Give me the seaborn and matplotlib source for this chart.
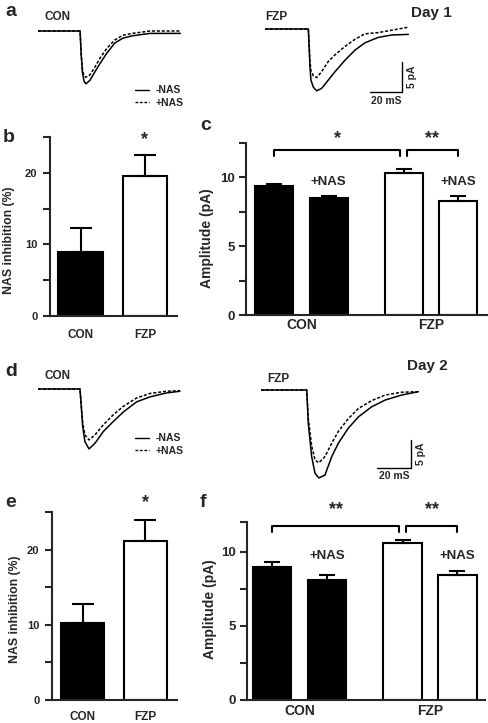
import seaborn as sns
import numpy as np
import matplotlib.pyplot as plt
import pandas as pd
from matplotlib.lines import Line2D

# --- data ---

# Day 1 traces (time in ms, current in pA)
d1_con_t_off = [0, 26.3, 27.0, 27.8, 28.8, 30.0, 32.5, 35.6, 38.8, 43.0, 48.0, 53.0, 59.0, 70.0, 89.0]
d1_con_i_off = [0, 0, -4.0, -7.0, -8.4, -8.8, -8.2, -6.8, -5.4, -3.7, -2.0, -1.2, -0.8, -0.4, -0.4]
d1_con_i_on = [0, 0, -3.8, -6.5, -7.5, -7.7, -7.3, -6.0, -4.5, -2.9, -1.5, -0.7, -0.4, 0.0, 0.0]

d1_fzp_t = [0, 27.1, 28.1, 28.7, 30.2, 32.3, 35.4, 39.6, 43.8, 50.0, 56.3, 62.5, 70.8, 79.2, 89.6]
d1_fzp_i_off = [0, 0, -6.3, -8.5, -9.7, -10.3, -9.9, -8.5, -7.1, -5.2, -3.5, -2.3, -1.4, -1.0, -0.9]
d1_fzp_i_on = [0, 0, -5.3, -6.9, -7.8, -8.1, -7.1, -5.4, -4.3, -2.9, -1.7, -0.8, -0.6, -0.2, 0.3]

# Day 2 traces
d2_con_t = [0, 24.7, 26.3, 27.6, 30.0, 33.5, 38.4, 44.3, 50.2, 58.0, 65.9, 75.7, 83.5]
d2_con_i_off = [0, 0, -6.7, -9.4, -10.7, -9.7, -7.6, -5.8, -4.1, -2.3, -1.4, -0.7, -0.4]
d2_con_i_on = [0, 0, -6.0, -8.2, -9.1, -8.2, -6.4, -4.6, -3.1, -1.6, -0.8, -0.4, -0.3]

d2_fzp_t = [0, 26.9, 27.8, 29.8, 31.8, 34.0, 37.6, 41.6, 45.5, 51.4, 57.3, 65.1, 73.0, 82.7, 92.5]
d2_fzp_i_off = [0, 0, -5.9, -11.9, -14.9, -15.7, -15.2, -11.9, -9.5, -6.8, -4.8, -3.0, -1.8, -0.9, -0.3]
d2_fzp_i_on = [0, 0, -5.0, -10.0, -12.5, -13.0, -11.9, -9.5, -7.4, -5.1, -3.3, -1.9, -0.9, -0.4, -0.3]

# NAS inhibition (%) bars
groups = ["CON", "FZP"]
inhib_d1 = [8.9, 19.6]
inhib_d1_err = [3.4, 2.9]
inhib_d2 = [10.2, 21.1]
inhib_d2_err = [2.6, 2.8]

# amplitude bars (pA): CON -NAS, CON +NAS, FZP -NAS, FZP +NAS
amp_group = ["CON", "CON", "FZP", "FZP"]
amp_treat = ["-NAS", "+NAS", "-NAS", "+NAS"]
amp_d1 = [9.4, 8.5, 10.3, 8.3]
amp_d1_err = [0.15, 0.15, 0.3, 0.35]
amp_d2 = [9.0, 8.1, 10.6, 8.4]
amp_d2_err = [0.3, 0.35, 0.2, 0.3]

# --- figure ---
sns.set_style("ticks")
plt.rcParams["font.family"] = ["Liberation Sans", "DejaVu Sans"]
plt.rcParams["font.weight"] = "bold"
plt.rcParams["axes.labelweight"] = "bold"
plt.rcParams["axes.linewidth"] = 1.5

W, H = 489, 723
fig = plt.figure(figsize=(W / 100, H / 100), dpi=100)


def px_axes(left, top, right, bottom):
    return fig.add_axes([left / W, 1 - bottom / H, (right - left) / W, (bottom - top) / H])


def ftext(x, y, s, **kw):
    fig.text(x / W, 1 - y / H, s, **kw)


def trace_axes(x0, base, pxms, pxpa, tmax=100, ymin=-17, ymax=1):
    ax = px_axes(x0, base - ymax * pxpa, x0 + tmax * pxms, base - ymin * pxpa)
    ax.set_xlim(0, tmax)
    ax.set_ylim(ymin, ymax)
    ax.axis("off")
    return ax


def draw_trace(ax, t, off, on):
    df = pd.DataFrame({
        "time": list(t) + list(t),
        "current": list(off) + list(on),
        "cond": ["-NAS"] * len(t) + ["+NAS"] * len(t),
    })
    sns.lineplot(data=df, x="time", y="current", style="cond", color="black",
                 dashes={"-NAS": "", "+NAS": (2, 1.2)}, linewidth=1.1,
                 legend=False, ax=ax)
    ax.axis("off")


def scale_bar(ax, t0, y0):
    ax.plot([t0, t0 + 20, t0 + 20], [y0, y0, y0 + 5], color="black", lw=1.0)
    ax.text(t0 + 10, y0 - 0.6, "20 mS", ha="center", va="top", fontsize=7.5)
    ax.text(t0 + 23, y0 + 2.5, "5 pA", ha="left", va="center", rotation=90, fontsize=7.5)


def nas_legend(ax, x, y):
    handles = [Line2D([], [], color="black", lw=1.0),
               Line2D([], [], color="black", lw=1.0, dashes=(2, 1.2))]
    ax.legend(handles, ["-NAS", "+NAS"], loc="upper left",
              bbox_to_anchor=(x / W, 1 - y / H), bbox_transform=fig.transFigure,
              frameon=False, handlelength=1.3, handletextpad=0.7,
              labelspacing=0.25, borderpad=0, prop={"size": 7.5, "weight": "bold"})


def inhib_panel(ax, vals, errs, xlim, label_x, label_y, pad, star_y):
    sns.barplot(x=groups, y=vals, hue=groups, palette={"CON": "black", "FZP": "white"},
                edgecolor="black", linewidth=1.5, width=0.69, legend=False, ax=ax)
    ax.errorbar([0, 1], vals, yerr=[[0, 0], errs], fmt="none", ecolor="black",
                elinewidth=1.5, capsize=8, capthick=1.5)
    ax.set_xlim(*xlim)
    ax.set_ylim(0, 25)
    ax.set_yticks([0, 5, 10, 15, 20, 25])
    ax.set_yticklabels(["0", "", "10", "", "20", ""])
    ax.tick_params(axis="y", length=5, width=1.5, labelsize=8, pad=4)
    ax.tick_params(axis="x", length=0, labelsize=8.5, pad=pad)
    ax.set_ylabel("NAS inhibition (%)", fontsize=8.8)
    ax.yaxis.set_label_coords(label_x, label_y, transform=fig.transFigure)
    ax.set_xlabel("")
    ax.text(1, star_y, "*", ha="center", va="center", fontsize=13, clip_on=False)
    sns.despine(ax=ax)


def amp_panel(ax, vals, errs, xlim, ytop, yticks, star_texts, bracket_y, star_y, nas_y,
              label_x, label_y, pad):
    df = pd.DataFrame({"group": amp_group, "treat": amp_treat, "amp": vals})
    sns.barplot(data=df, x="group", y="amp", hue="treat", hue_order=["-NAS", "+NAS"],
                palette=["black", "black"], width=0.84, gap=0.3, edgecolor="black",
                linewidth=1.5, legend=False, ax=ax)
    bars = sorted(ax.patches, key=lambda p: p.get_x())
    centers = []
    for p in bars:
        c = p.get_x() + p.get_width() / 2
        centers.append(c)
        p.set_facecolor("black" if c < 0.5 else "white")
    ax.errorbar(centers, vals, yerr=[[0] * 4, errs], fmt="none", ecolor="black",
                elinewidth=1.5, capsize=5.5, capthick=1.5)
    ax.set_xlim(*xlim)
    ax.set_ylim(0, ytop)
    ax.set_yticks(yticks)
    ax.set_yticklabels(["0" if v == 0 else ("5" if v == 5 else ("10" if v == 10 else "")) for v in yticks])
    ax.tick_params(axis="y", length=5, width=1.5, labelsize=9.5, pad=3)
    ax.tick_params(axis="x", length=0, labelsize=10, pad=pad)
    ax.set_ylabel("Amplitude (pA)", fontsize=10)
    ax.yaxis.set_label_coords(label_x, label_y, transform=fig.transFigure)
    ax.set_xlabel("")
    # +NAS labels
    for i in (1, 3):
        ax.text(centers[i], nas_y, "+NAS", ha="center", va="center", fontsize=9.5)
    # brackets
    d = 0.025
    drop = 0.45
    pairs = [(centers[0], centers[2] - d), (centers[2] + d, centers[3])]
    for (xa, xb), s in zip(pairs, star_texts):
        ax.plot([xa, xa, xb, xb], [bracket_y - drop, bracket_y, bracket_y, bracket_y - drop],
                color="black", lw=1.5, clip_on=False)
        ax.text((xa + xb) / 2, star_y, s, ha="center", va="center", fontsize=13, clip_on=False)
    sns.despine(ax=ax)


# panel a (Day 1 traces)
ax_a1 = trace_axes(38, 31, 1.6, 6)
draw_trace(ax_a1, d1_con_t_off, d1_con_i_off, d1_con_i_on)
nas_legend(ax_a1, 130, 80)
ax_a2 = trace_axes(265, 29, 1.6, 6)
draw_trace(ax_a2, d1_fzp_t, d1_fzp_i_off, d1_fzp_i_on)
scale_bar(ax_a2, 65.6, -10.5)
ftext(5, 16, "a", fontsize=14)
ftext(45, 20, "CON", fontsize=8.5)
ftext(265, 20, "FZP", fontsize=8.5)
ftext(411, 17, "Day 1", fontsize=11)

# panel b
ax_b = px_axes(50, 137, 177, 316)
inhib_panel(ax_b, inhib_d1, inhib_d1_err, (-0.477, 1.5), 15 / W, 1 - 240 / H, 9, 24.6)
ftext(3, 142, "b", fontsize=14)

# panel c
ax_c = px_axes(246, 143, 488, 315)
amp_panel(ax_c, amp_d1, amp_d1_err, (-0.429, 1.443), 12.5, [0, 2.5, 5, 7.5, 10, 12.5],
          ["*", "**"], 12.0, 12.8, 9.67, 214 / W, 1 - 238 / H, 2)
ftext(200, 130, "c", fontsize=14)

# panel d (Day 2 traces)
ax_d1 = trace_axes(38, 389, 1.7, 5.6)
draw_trace(ax_d1, d2_con_t, d2_con_i_off, d2_con_i_on)
nas_legend(ax_d1, 130, 428)
ax_d2 = trace_axes(261, 390, 1.7, 5.6)
draw_trace(ax_d2, d2_fzp_t, d2_fzp_i_off, d2_fzp_i_on)
scale_bar(ax_d2, 68.2, -13.9)
ftext(5, 376, "d", fontsize=14)
ftext(45, 379, "CON", fontsize=8.5)
ftext(267, 382, "FZP", fontsize=8.5)
ftext(407, 370, "Day 2", fontsize=11)

# panel e
ax_e = px_axes(52, 512, 177, 700)
inhib_panel(ax_e, inhib_d2, inhib_d2_err, (-0.49, 1.51), 21 / W, 1 - 609 / H, 8, 26.2)
ftext(5, 507, "e", fontsize=14)

# panel f
ax_f = px_axes(247, 522, 485, 700)
amp_panel(ax_f, amp_d2, amp_d2_err, (-0.402, 1.422), 12, [0, 2.5, 5, 7.5, 10, 12],
          ["**", "**"], 11.75, 12.85, 9.73, 217 / W, 1 - 609 / H, 3)
ftext(200, 507, "f", fontsize=14)

fig.savefig("out.png", dpi=100)
